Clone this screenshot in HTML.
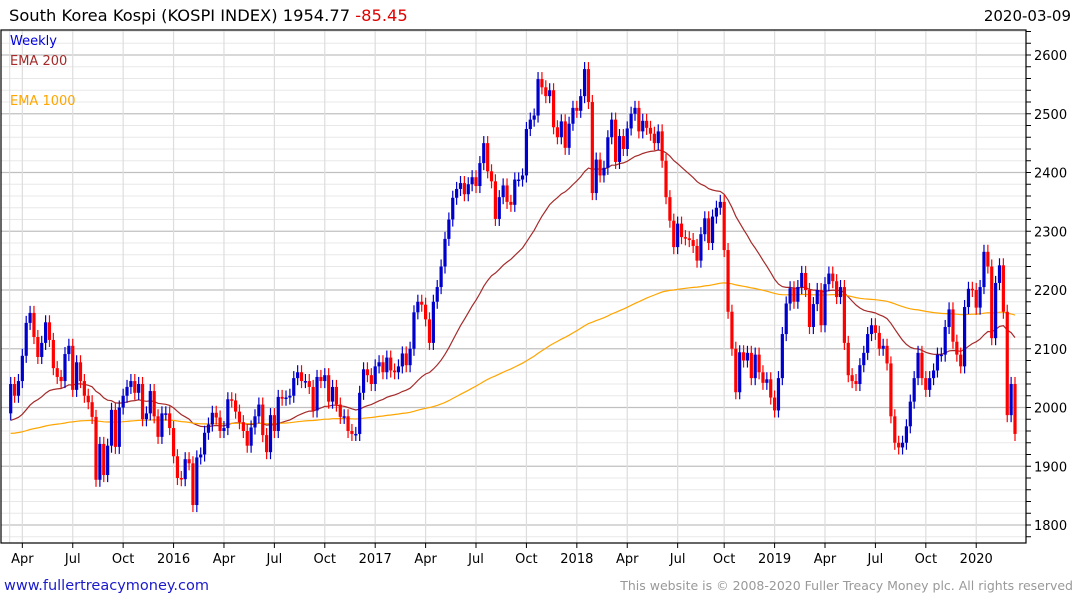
<!DOCTYPE html>
<html><head><meta charset="utf-8">
<style>
html,body{margin:0;padding:0;background:#fff;}
body{width:1075px;height:600px;overflow:hidden;font-family:"DejaVu Sans","Liberation Sans",sans-serif;}
svg text{font-family:"DejaVu Sans","Liberation Sans",sans-serif;}
</style></head>
<body>
<svg id="chart" width="1075" height="600" xmlns="http://www.w3.org/2000/svg">
<g id="grid"></g>
<g id="ema"></g>
<g id="candles"></g>
<rect x="1" y="30" width="1025" height="513" fill="none" stroke="#000" stroke-width="1.2"/>
<g id="axes"></g>
<text x="9" y="21" font-size="16.3" fill="#000">South Korea Kospi (KOSPI INDEX) 1954.77 <tspan fill="#e00000">-85.45</tspan></text>
<text x="1071" y="21" font-size="15" text-anchor="end" fill="#000">2020-03-09</text>
<text x="10" y="45" font-size="13" fill="#0000dd">Weekly</text>
<text x="10" y="65" font-size="13" fill="#a52a2a">EMA 200</text>
<text x="10" y="105" font-size="13" fill="#ffa500">EMA 1000</text>
<text x="4" y="590" font-size="14.5" fill="#1a1acc">www.fullertreacymoney.com</text>
<text x="1073" y="590" font-size="12.5" text-anchor="end" fill="#999">This website is © 2008-2020 Fuller Treacy Money plc. All rights reserved</text>
</svg>
<script>
const closes = [2040,2020,2045,2088,2144,2161,2120,2086,2110,2145,2115,2067,2052,2045,2091,2105,2030,2077,2045,2020,2009,1984,1877,1938,1885,1935,1996,1933,2000,2020,2035,2045,2025,2040,1980,1990,2028,1985,1950,1990,1990,1965,1917,1880,1878,1912,1905,1834,
1915,1920,1957,1971,1991,1983,1960,1965,2014,2012,1993,1975,1960,1935,1966,1985,2005,1953,1924,1987,1960,2018,2015,2017,2020,2050,2060,2045,2045,2035,1995,2052,2045,2055,2010,2035,2005,1984,1985,1960,1955,1955,2025,2065,2055,2040,2070,2077,2060,2085,
2063,2060,2070,2092,2072,2100,2162,2180,2175,2150,2110,2180,2205,2240,2287,2320,2357,2372,2382,2363,2380,2392,2377,2416,2450,2402,2385,2321,2358,2378,2350,2345,2388,2388,2395,2474,2490,2497,2559,2545,2530,2540,2477,2460,2487,2442,2483,2510,2505,2530,2576,2520,2365,2422,2395,
2408,2460,2490,2418,2462,2440,2475,2500,2510,2470,2488,2476,2466,2450,2470,2420,2358,2318,2273,2313,2290,2288,2285,2275,2250,2295,2322,2280,2325,2340,2350,2268,2163,2100,2026,2094,2080,2093,2050,2090,2060,2042,2048,2017,1995,2050,
2125,2177,2203,2180,2205,2229,2200,2137,2176,2200,2140,2210,2228,2215,2188,2205,2110,2055,2045,2040,2072,2093,2125,2140,2127,2100,2105,2075,1985,1940,1932,1940,1968,2010,2050,2093,2050,2030,2050,2063,2090,2090,2137,2167,2112,2090,2070,2171,2202,2200,2170,2205,2265,2240,2118,2212,2242,2163,1987,2040,1955];
const firstOpen = 1990;
const yTicks = [1800,1900,2000,2100,2200,2300,2400,2500,2600];
const xLabels = ["Apr","Jul","Oct","2016","Apr","Jul","Oct","2017","Apr","Jul","Oct","2018","Apr","Jul","Oct","2019","Apr","Jul","Oct","2020"];
const xLabelWeeks = [3,16,29,42,55,68,81,94,107,120,133,146,159,172,184,197,210,223,236,249];
const emaSeeds = [1975,1955];
const emaPeriods = [40,200];

const NS="http://www.w3.org/2000/svg";
const X0=10.7, X1=1015;
const step=(X1-X0)/(closes.length-1);
const x=i=>X0+i*step;
const y=v=>525-(v-1800)*0.5875;
function mk(tag,attrs,parent){const e=document.createElementNS(NS,tag);for(const k in attrs)e.setAttribute(k,attrs[k]);parent.appendChild(e);return e;}
const grid=document.getElementById('grid'),axes=document.getElementById('axes'),cg=document.getElementById('candles'),eg=document.getElementById('ema');

for(let v=1780;v<=2640;v+=20){
  const yy=y(v); if(yy<31||yy>542) continue;
  const major=v%100===0;
  const l=mk('line',{x1:1,x2:1026,y1:yy,y2:yy,stroke:major?'#c0c0c0':'#e8e8e8','stroke-width':major?1.3:1},grid);
  
  
  const t=mk('line',{x1:1026,x2:1031,y1:yy,y2:yy,stroke:'#000'},axes);
  
  
}
yTicks.forEach(v=>{
  const t=mk('text',{x:1034,y:y(v)+5,'font-size':13,fill:'#000'},axes);
  t.textContent=v;
  
  
});
const vl=mk('line',{x1:x(0)-1,x2:x(0)-1,y1:30,y2:543,stroke:'#ddd'},grid);


xLabels.forEach((lab,k)=>{
  const xx=x(xLabelWeeks[k]);
  const g=mk('line',{x1:xx,x2:xx,y1:30,y2:543,stroke:'#ddd','stroke-width':1.2},grid);
  
  
  const t=mk('line',{x1:xx,x2:xx,y1:543,y2:548,stroke:'#000'},axes);
  
  
  const tx=mk('text',{x:xx,y:563,'font-size':13,'text-anchor':'middle',fill:'#000'},axes);
  tx.textContent=lab;
  
  
});

const emaColors=['#a52a2a','#ffa500'];
emaPeriods.forEach((p,k)=>{
  const a=2/(p+1); let e=emaSeeds[k]; let d='';
  closes.forEach((c,i)=>{e=e+a*(c-e);d+=(i?'L':'M')+x(i).toFixed(1)+','+y(e).toFixed(1);});
  const path=mk('path',{d:d,fill:'none',stroke:emaColors[k],'stroke-width':1.2},eg);
  
  
});

closes.forEach((c,i)=>{
  const o=i?closes[i-1]:firstOpen;
  const up=c>=o, col=up?'#0000cc':'#ff0000';
  const hi=Math.max(o,c)+12, lo=Math.min(o,c)-12;
  const g=mk('g',{},cg);
  
  
  mk('line',{x1:x(i),x2:x(i),y1:y(hi),y2:y(lo),stroke:col,'stroke-width':1.2},g);
  const top=y(Math.max(o,c)), h=Math.max(1.5,y(Math.min(o,c))-top);
  mk('rect',{x:x(i)-1.6,y:top,width:3.2,height:h,fill:col},g);
});
</script>
</body></html>
